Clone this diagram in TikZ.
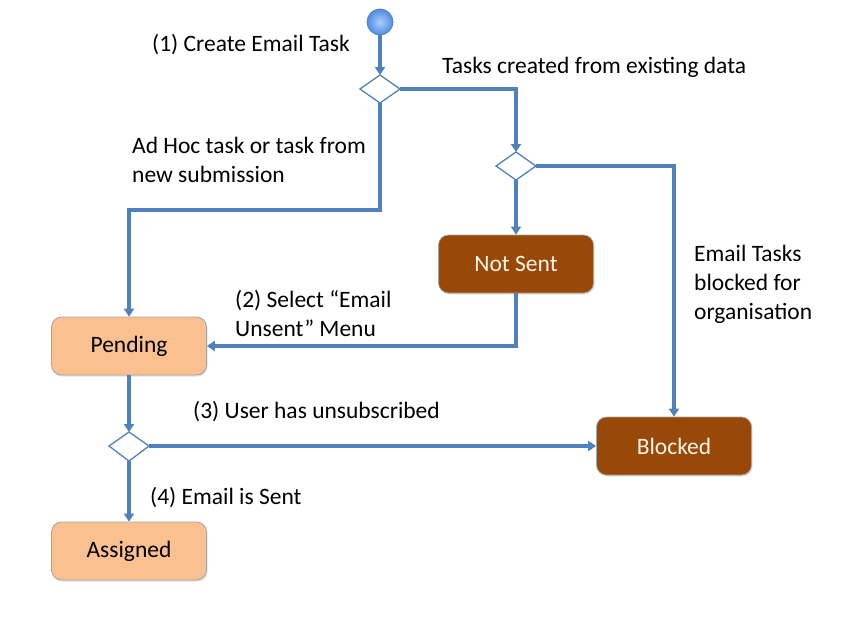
\documentclass[tikz,border=0pt]{standalone}
\usepackage{fontspec}
\setmainfont{Carlito}
\usetikzlibrary{arrows.meta,shadows}
\definecolor{flow}{RGB}{79,129,189}
\definecolor{peach}{RGB}{250,192,144}
\definecolor{rust}{RGB}{152,72,7}
\definecolor{cream}{RGB}{255,245,230}
\definecolor{ballin}{RGB}{170,205,250}
\definecolor{ballout}{RGB}{80,140,225}
\begin{document}
\begin{tikzpicture}[x=1pt,y=-1pt,
  font=\fontsize{23.5}{29}\selectfont,
  conn/.style={draw=flow,line width=3.2pt,-{Triangle[length=8pt,width=10pt]}},
  lightbox/.style={draw=gray!70,line width=0.8pt,fill=peach,rounded corners=10pt,minimum width=155pt,minimum height=58pt,text=black,drop shadow={opacity=0.25,shadow xshift=1pt,shadow yshift=-1.5pt}},
  darkbox/.style={draw=gray!70,line width=0.8pt,fill=rust,rounded corners=10pt,minimum width=155pt,minimum height=58pt,text=cream,drop shadow={opacity=0.25,shadow xshift=1pt,shadow yshift=-1.5pt}},
  decide/.style={draw=flow,line width=1.3pt,fill=white},
  lbl/.style={anchor=west,inner sep=0pt,align=left}]
\useasboundingbox (0,0) rectangle (848,634);
% start
\shade[inner color=ballin,outer color=ballout,draw=flow,line width=0.8pt] (380,22) circle (13);
\coordinate (start) at (380,35);
% diamonds
\path[decide] (360,89) -- (380,75) -- (400,89) -- (380,103) -- cycle;
\coordinate (d1t) at (380,75); \coordinate (d1r) at (400,89); \coordinate (d1b) at (380,103);
\path[decide] (496,166) -- (516,152) -- (536,166) -- (516,180) -- cycle;
\coordinate (d2t) at (516,152); \coordinate (d2r) at (536,166); \coordinate (d2b) at (516,180);
\path[decide] (109,446) -- (129,432) -- (149,446) -- (129,461) -- cycle;
\coordinate (d3t) at (129,432); \coordinate (d3r) at (149,446); \coordinate (d3b) at (129,461);
% boxes
\node[lightbox] (pending) at (129,346) {Pending};
\node[lightbox] (assigned) at (129,551) {Assigned};
\node[darkbox] (notsent) at (516,264) {Not Sent};
\node[darkbox] (blocked) at (674,446) {Blocked};
% connectors
\draw[conn] (start) -- (d1t);
\draw[conn] (d1r) -| (d2t);
\draw[conn] (d1b) -- (380,210) -| (pending.north);
\draw[conn] (d2b) -- (notsent.north);
\draw[conn] (d2r) -| (blocked.north);
\draw[conn] (notsent.south) |- (pending.east);
\draw[conn] (pending.south) -- (d3t);
\draw[conn] (d3r) -- (blocked.west);
\draw[conn] (d3b) -- (assigned.north);
% labels
\node[lbl] (l1) at (152,45) {(1) Create Email Task};
\node[lbl] (l2) at (442,67) {Tasks created from existing data};
\node[lbl] (l3) at (132,160) {Ad Hoc task or task from\\new submission};
\node[lbl] (l4) at (694,284) {Email Tasks\\blocked for\\organisation};
\node[lbl] (l5) at (235,313) {(2) Select “Email\\Unsent” Menu};
\node[lbl] (l6) at (193,412) {(3) User has unsubscribed};
\node[lbl] (l7) at (150,498) {(4) Email is Sent};
\end{tikzpicture}
\end{document}
